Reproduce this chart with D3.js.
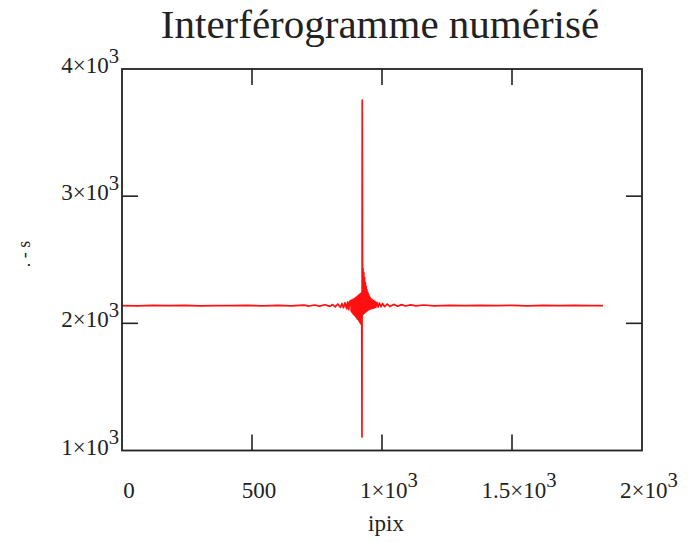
<!DOCTYPE html>
<html>
<head>
<meta charset="utf-8">
<script src="https://cdn.jsdelivr.net/npm/d3@7"></script>
<style>
  body { margin: 0; background: #fff; }
  text { font-family: "Liberation Serif", "DejaVu Serif", serif; fill: #222; }
</style>
</head>
<body>
<div id="content"></div>
<script>
// interferogram (pixel index vs signal)
const ipix = [0, 60, 120, 180, 240, 300, 360, 420, 480, 540, 600, 650, 700, 720, 740, 760, 780, 800, 810, 820,
  830, 840, 846, 852, 858, 864, 868, 872, 876, 880, 881.5, 883, 884.5, 886, 887.5, 889, 890.5, 892, 893.5,
  895, 896.5, 898, 899.5, 901, 902.5, 904, 905.5, 907, 908.5, 910, 911.5, 913, 914.5, 916, 917.5, 919,
  920.5, 922, 923, 924, 925.5, 927, 928.5, 930, 931.5, 933, 934.5, 936, 937.5, 939, 940.5, 942, 943.5,
  945, 946.5, 948, 949.5, 951, 952.5, 954, 955.5, 957, 958.5, 960, 962, 964, 966, 968, 970, 973, 976,
  980, 985, 990, 996, 1002, 1010, 1020, 1030, 1045, 1060, 1075, 1090, 1110, 1130, 1160, 1200, 1260,
  1320, 1380, 1440, 1500, 1560, 1620, 1680, 1740, 1800, 1850];
const s = [2140, 2138, 2141, 2139, 2141, 2138, 2140, 2139, 2141, 2138, 2141, 2137, 2143, 2136, 2144, 2135, 2146, 2133, 2148, 2130,
  2152, 2126, 2156, 2122, 2162, 2115, 2168, 2108, 2172, 2178, 2095, 2182, 2088, 2175, 2080, 2190, 2070, 2185, 2065,
  2195, 2060, 2200, 2050, 2205, 2045, 2210, 2035, 2215, 2030, 2220, 2020, 2225, 2010, 2230, 2000, 2235,
  1990, 2240, 1106, 3756, 2070, 2430, 2075, 2400, 2080, 2360, 2085, 2320, 2090, 2290, 2095, 2265, 2100,
  2245, 2105, 2230, 2108, 2215, 2110, 2205, 2113, 2195, 2115, 2188, 2118, 2182, 2120, 2176, 2122, 2172, 2125,
  2165, 2128, 2160, 2130, 2156, 2131, 2152, 2133, 2149, 2134, 2147, 2136, 2145, 2137, 2144, 2138, 2142,
  2139, 2141, 2139, 2141, 2138, 2141, 2139, 2141, 2139, 2140];

const xTicks = [0, 500, 1000, 1500, 2000];
const yTicks = [1000, 2000, 3000, 4000];

const svg = d3.select("#content").append("svg")
  .attr("width", 688)
  .attr("height", 542);

const margin = { top: 69, right: 46, bottom: 91.5, left: 122 };
const width = 688 - margin.left - margin.right;
const height = 542 - margin.top - margin.bottom;

const x = d3.scaleLinear().domain([0, 2000]).range([0, width]);
const y = d3.scaleLinear().domain([1000, 4000]).range([height, 0]);

const g = svg.append("g")
  .attr("transform", `translate(${margin.left},${margin.top})`);

// labels like 4×10³
function sci(sel, v) {
  if (v < 1000) { sel.text(v); return; }
  const m = v / 1000;
  sel.append("tspan").text(m + "\u00d710");
  sel.append("tspan").attr("dy", "-0.5em").attr("font-size", "0.9em").text("3");
}

const line = d3.line()
  .x((d, i) => x(ipix[i]))
  .y((d, i) => y(s[i]));

g.append("path")
  .datum(s)
  .attr("fill", "none")
  .attr("stroke", "#ff1010")
  .attr("stroke-width", 1.7)
  .attr("stroke-linejoin", "round")
  .attr("d", line);

// inward ticks on all four sides
const tk = 16;
const inner = g.append("g").attr("stroke", "#222").attr("stroke-width", 1.6);
xTicks.slice(1, -1).forEach(v => {
  inner.append("line").attr("x1", x(v)).attr("x2", x(v)).attr("y1", height).attr("y2", height - tk);
  inner.append("line").attr("x1", x(v)).attr("x2", x(v)).attr("y1", 0).attr("y2", tk);
});
yTicks.slice(1, -1).forEach(v => {
  inner.append("line").attr("x1", 0).attr("x2", tk).attr("y1", y(v)).attr("y2", y(v));
  inner.append("line").attr("x1", width).attr("x2", width - tk).attr("y1", y(v)).attr("y2", y(v));
});

g.append("rect")
  .attr("width", width)
  .attr("height", height)
  .attr("fill", "none")
  .attr("stroke", "#222")
  .attr("stroke-width", 1.8);

g.selectAll(".xl")
  .data(xTicks)
  .enter()
  .append("text")
  .attr("class", "xl")
  .attr("x", d => x(d) + 7)
  .attr("y", height + 47)
  .attr("text-anchor", "middle")
  .attr("font-size", 23)
  .each(function (d) { sci(d3.select(this), d); });

g.selectAll(".yl")
  .data(yTicks)
  .enter()
  .append("text")
  .attr("class", "yl")
  .attr("x", -3)
  .attr("y", d => y(d) + 4)
  .attr("text-anchor", "end")
  .attr("font-size", 23)
  .each(function (d) { sci(d3.select(this), d); });

svg.append("text")
  .attr("x", margin.left + width / 2 - 2)
  .attr("y", 38)
  .attr("text-anchor", "middle")
  .attr("font-size", 41)
  .text("Interférogramme numérisé");

svg.append("text")
  .attr("x", 386)
  .attr("y", 531)
  .attr("text-anchor", "middle")
  .attr("font-size", 23)
  .text("ipix");

svg.append("text")
  .attr("transform", "translate(30,254) rotate(-90)")
  .attr("text-anchor", "middle")
  .attr("font-size", 18)
  .attr("fill", "#333")
  .text(". - s");
</script>
</body>
</html>
